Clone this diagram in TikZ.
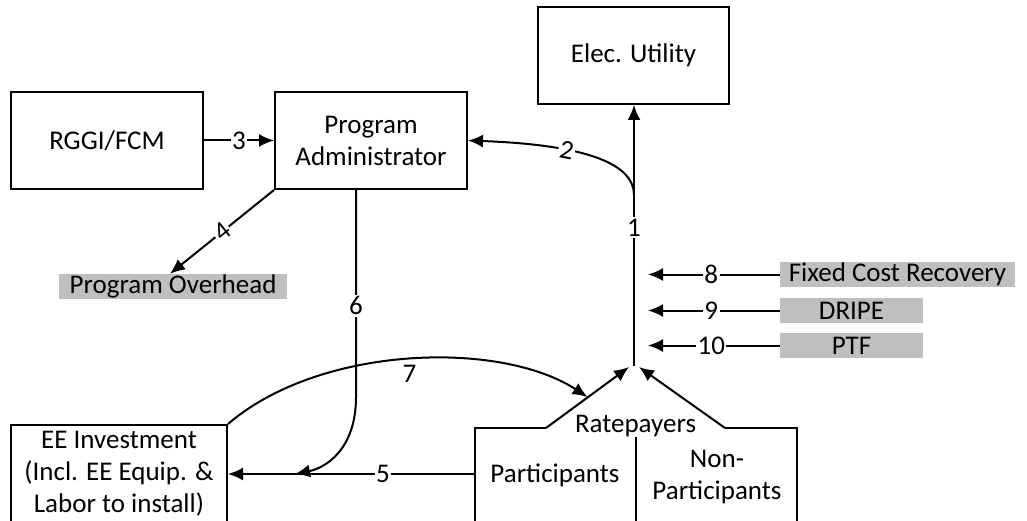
\documentclass[tikz,border=0pt]{standalone}
\usepackage{fontspec}
\setmainfont{Carlito}
\usetikzlibrary{arrows.meta,calc}
\definecolor{gfill}{RGB}{191,191,191}
\begin{document}
\begin{tikzpicture}[x=1pt,y=-1pt,
  every node/.style={font=\fontsize{27}{32}\selectfont},
  box/.style={draw, line width=2pt, inner sep=0pt, align=center},
  gbox/.style={fill=gfill, inner sep=0pt, minimum height=25pt},
  ln/.style={line width=2pt},
  arr/.style={line width=2pt, -{Latex[length=15pt,width=13pt]}},
  lbl/.style={fill=white, inner sep=1.5pt}]
\useasboundingbox (0,0) rectangle (1027,521);
% boxes
\node[box, minimum width=191pt, minimum height=97pt] (EU) at (633.5,55.5) {Elec. Utility};
\node[box, minimum width=192pt, minimum height=97pt] (RG) at (107,140.5) {RGGI/FCM};
\node[box, minimum width=192pt, minimum height=97pt] (PA) at (371,140.5) {Program\\Administrator};
\node[box, minimum width=216pt, minimum height=98pt] (EE) at (119,474) {EE Investment\\(Incl. EE Equip. \&\\Labor to install)};
\node[box, minimum width=322pt, minimum height=94pt] (RP) at (636,475) {};
\coordinate (DV) at (636,430);
\draw[ln] (DV) -- (DV |- RP.south);
\node[fill=white, inner xsep=0pt, inner ysep=0pt, minimum width=179pt, minimum height=20pt] (RPL) at (635.5,426) {Ratepayers};
\node (PT) at (555,475) {Participants};
\node[align=center] (NP) at (717,477) {Non-\\Participants};
% gray boxes
\node[gbox, minimum width=228pt] (PO) at (173,286.5) {Program Overhead};
\node[gbox, minimum width=235pt] (FC) at (897.5,274.5) {Fixed Cost Recovery};
\node[gbox, minimum width=143pt] (DR) at (851.5,310.5) {DRIPE};
\node[gbox, minimum width=143pt] (PF) at (851.5,345.5) {PTF};
% coordinates
\coordinate (J) at (634,366);
\coordinate (JL) at (629,367);
\coordinate (JR) at (639,367);
\coordinate (RL) at (546,428);
\coordinate (RR) at (725,428);
\coordinate (B2) at (634,195);
\coordinate (C6) at (356,397);
\coordinate (M6) at (295,474);
\coordinate (T7) at (587.5,397);
\coordinate (A8) at (648,274.5);
\coordinate (A9) at (648,310.5);
\coordinate (A10) at (648,345.5);
% connectors
\draw[arr] (RL) -- (JL);
\draw[arr] (RR) -- (JR);
\draw[arr] (J) -- node[lbl,pos=0.53]{1} (J |- EU.south);
\draw[arr] (B2) .. controls (634,165) and (590,145) .. node[lbl,sloped,pos=0.66]{2} (PA.east);
\draw[arr] (RG.east) -- node[lbl]{3} (PA.west);
\draw[arr] (PA.south west) -- node[lbl,sloped]{4} ([xshift=-3pt]PO.north);
\draw[arr] (RP.west |- EE.east) -- node[lbl,pos=0.37]{5} (EE.east);
\draw[arr] ([xshift=-15pt]PA.south) -- node[lbl,pos=0.56]{6} (C6) .. controls (356,450) and (325,468) .. (M6);
\draw[arr] (EE.north east) .. controls (320,345) and (500,340) .. node[pos=0.5,below=1pt]{7} (T7);
\draw[arr] (FC.west) -- node[lbl,pos=0.52]{8} (A8);
\draw[arr] (DR.west) -- node[lbl,pos=0.52]{9} (A9);
\draw[arr] (PF.west) -- node[lbl,pos=0.52]{10} (A10);
\end{tikzpicture}
\end{document}
